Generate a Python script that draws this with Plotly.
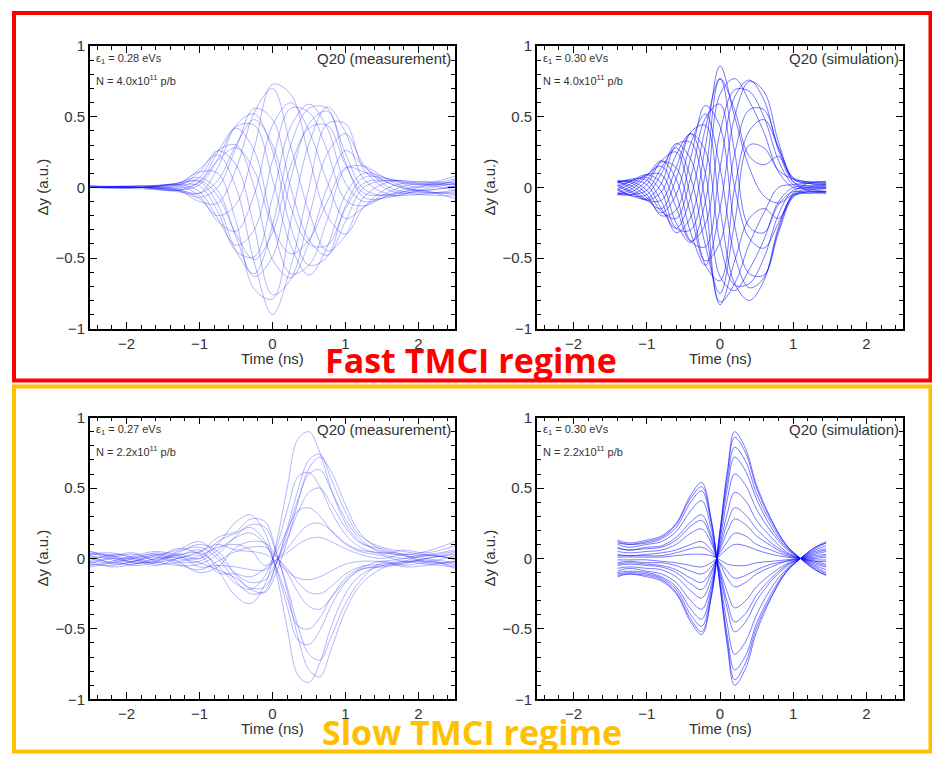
import plotly.graph_objects as go

# ---------------- data ----------------
# Fast TMCI, measurement (N = 4.0e11 p/b)
t_fast_meas = [-2.5, -1.8, -1.3, -1.0, -0.75, -0.5, -0.25, 0.0, 0.25, 0.5, 0.75, 1.0, 1.25, 1.6, 2.0, 2.5]
dy_fast_meas = [
    [0.0, 0.0, -0.02, -0.10, -0.11, 0.13, 0.53, 0.70, 0.29, -0.17, -0.45, -0.34, -0.07, 0.04, 0.04, 0.02],
    [0.0, 0.01, -0.01, -0.08, -0.20, -0.12, 0.28, 0.73, 0.66, 0.22, -0.20, -0.33, -0.14, 0.0, 0.04, 0.03],
    [0.0, 0.0, -0.02, -0.07, 0.0, 0.28, 0.56, 0.48, 0.0, -0.37, -0.48, -0.24, 0.0, 0.05, 0.03, -0.02],
    [0.01, 0.0, -0.03, -0.04, 0.14, 0.44, 0.52, 0.26, -0.28, -0.55, -0.49, -0.13, 0.07, 0.06, 0.02, 0.04],
    [0.0, -0.01, -0.02, 0.02, 0.20, 0.43, 0.44, 0.06, -0.41, -0.62, -0.42, -0.05, 0.10, 0.06, 0.0, 0.05],
    [0.0, 0.0, -0.02, 0.04, 0.25, 0.42, 0.26, -0.26, -0.61, -0.55, -0.23, 0.13, 0.15, 0.05, -0.02, 0.01],
    [0.0, 0.01, 0.0, 0.07, 0.26, 0.30, 0.0, -0.51, -0.64, -0.39, 0.0, 0.26, 0.15, 0.03, -0.03, -0.04],
    [0.01, 0.0, 0.01, 0.11, 0.26, 0.16, -0.28, -0.76, -0.65, -0.21, 0.24, 0.38, 0.16, 0.0, -0.04, -0.02],
    [0.0, 0.0, 0.02, 0.13, 0.23, 0.0, -0.53, -0.90, -0.56, 0.0, 0.45, 0.45, 0.13, -0.02, -0.05, -0.06],
    [0.0, 0.01, 0.03, 0.11, 0.10, -0.24, -0.72, -0.79, -0.24, 0.31, 0.57, 0.39, 0.06, -0.05, -0.05, -0.03],
    [0.01, 0.0, 0.03, 0.07, -0.02, -0.35, -0.63, -0.49, 0.06, 0.45, 0.54, 0.24, -0.01, -0.06, -0.03, -0.05],
    [0.0, 0.0, 0.03, 0.04, -0.12, -0.45, -0.61, -0.27, 0.30, 0.56, 0.56, 0.18, -0.07, -0.07, -0.02, 0.03],
    [0.0, 0.01, 0.02, 0.01, -0.17, -0.45, -0.49, -0.07, 0.43, 0.59, 0.42, 0.03, -0.10, -0.06, 0.0, 0.06],
    [0.0, 0.0, 0.02, -0.03, -0.22, -0.41, -0.30, 0.19, 0.56, 0.53, 0.26, -0.09, -0.13, -0.05, 0.01, 0.02],
    [0.01, 0.0, 0.01, -0.06, -0.24, -0.31, -0.05, 0.44, 0.60, 0.40, 0.04, -0.22, -0.14, -0.03, 0.03, 0.0],
    [0.0, 0.0, -0.02, -0.04, 0.05, 0.30, 0.48, 0.30, -0.14, -0.40, -0.41, -0.15, 0.03, 0.05, 0.02, 0.08],
    [0.0, 0.0, 0.02, 0.05, -0.06, -0.33, -0.51, -0.32, 0.15, 0.42, 0.44, 0.16, -0.04, -0.05, -0.02, -0.08],
    [0.0, 0.0, -0.01, 0.04, 0.19, 0.28, 0.12, -0.28, -0.47, -0.37, -0.10, 0.14, 0.11, 0.03, -0.02, 0.01],
]

# Fast TMCI, simulation
t_fast_sim = [-1.4, -1.2, -1.0, -0.8, -0.6, -0.4, -0.2, 0.0, 0.2, 0.4, 0.6, 0.8, 1.0, 1.2, 1.45]
dy_fast_sim = [
    [0.03, 0.06, 0.05, -0.10, -0.32, -0.21, 0.29, 0.86, 0.50, 0.14, -0.06, -0.11, -0.05, -0.03, -0.04],
    [0.04, 0.05, 0.02, -0.15, -0.29, -0.07, 0.42, 0.77, 0.25, -0.28, -0.32, -0.12, -0.03, -0.04, -0.04],
    [0.04, 0.04, -0.02, -0.17, -0.22, 0.07, 0.49, 0.59, 0.0, -0.36, -0.43, -0.25, -0.06, -0.04, -0.03],
    [0.05, 0.03, -0.05, -0.20, -0.16, 0.21, 0.58, 0.43, -0.27, -0.61, -0.62, -0.32, -0.07, -0.03, -0.03],
    [0.04, 0.01, -0.07, -0.18, -0.05, 0.31, 0.52, 0.14, -0.48, -0.71, -0.64, -0.30, -0.06, -0.02, -0.01],
    [0.04, -0.01, -0.09, -0.15, 0.06, 0.39, 0.44, -0.15, -0.68, -0.80, -0.66, -0.28, -0.05, -0.01, 0.0],
    [0.02, -0.03, -0.09, -0.09, 0.14, 0.38, 0.26, -0.39, -0.69, -0.68, -0.50, -0.19, -0.02, 0.0, 0.01],
    [0.01, -0.04, -0.09, -0.03, 0.23, 0.38, 0.10, -0.63, -0.73, -0.58, -0.37, -0.10, 0.0, 0.01, 0.02],
    [-0.01, -0.06, -0.08, 0.03, 0.30, 0.32, -0.10, -0.81, -0.68, -0.40, -0.18, 0.0, 0.02, 0.03, 0.03],
    [-0.02, -0.06, -0.05, 0.10, 0.31, 0.20, -0.28, -0.83, -0.52, -0.22, -0.15, -0.22, -0.04, 0.03, 0.04],
    [-0.04, -0.05, -0.02, 0.14, 0.28, 0.07, -0.41, -0.75, -0.25, 0.30, 0.28, 0.12, 0.06, 0.04, 0.04],
    [-0.05, -0.05, 0.02, 0.19, 0.25, -0.07, -0.55, -0.66, 0.0, 0.40, 0.48, 0.28, 0.07, 0.04, 0.03],
    [-0.05, -0.03, 0.05, 0.18, 0.14, -0.19, -0.52, -0.39, 0.24, 0.55, 0.55, 0.28, 0.06, 0.03, 0.02],
    [-0.05, -0.01, 0.08, 0.19, 0.06, -0.32, -0.55, -0.15, 0.50, 0.75, 0.68, 0.32, 0.06, 0.03, 0.01],
    [-0.04, 0.01, 0.09, 0.15, -0.05, -0.38, -0.42, 0.14, 0.64, 0.76, 0.62, 0.26, 0.04, 0.01, 0.0],
    [-0.02, 0.03, 0.09, 0.09, -0.14, -0.38, -0.26, 0.39, 0.69, 0.68, 0.50, 0.19, 0.02, 0.0, -0.01],
    [-0.01, 0.05, 0.09, 0.03, -0.25, -0.39, -0.10, 0.66, 0.77, 0.61, 0.39, 0.11, 0.0, -0.01, -0.03],
    [0.01, 0.05, 0.07, -0.03, -0.29, -0.30, 0.10, 0.77, 0.55, 0.22, 0.16, 0.22, 0.04, -0.02, -0.03],
]

# Slow TMCI, measurement (N = 2.2e11 p/b)
t_slow_meas = [-2.5, -2.2, -1.9, -1.6, -1.3, -1.0, -0.75, -0.5, -0.3, -0.1, 0.05,
               0.2, 0.35, 0.5, 0.65, 0.8, 1.0, 1.2, 1.5, 1.8, 2.1, 2.5]
dy_slow_meas = [
    [0.02, -0.03, 0.0, 0.04, 0.02, 0.06, -0.08, -0.27, -0.32, -0.18, 0.10, 0.50, 0.85, 0.90, 0.75, 0.50, 0.25, 0.12, 0.05, 0.02, 0.0, -0.03],
    [-0.03, 0.01, 0.03, -0.01, 0.05, 0.08, 0.0, -0.16, -0.25, -0.23, -0.04, 0.21, 0.49, 0.70, 0.74, 0.57, 0.33, 0.16, 0.08, 0.05, 0.03, 0.06],
    [0.04, 0.0, -0.02, 0.02, 0.06, 0.12, 0.02, -0.12, -0.22, -0.24, -0.10, 0.12, 0.40, 0.64, 0.72, 0.62, 0.38, 0.18, 0.06, 0.03, -0.02, 0.02],
    [0.0, -0.04, -0.02, 0.03, 0.0, -0.03, -0.08, -0.14, -0.21, -0.20, -0.04, 0.18, 0.42, 0.60, 0.63, 0.49, 0.28, 0.14, 0.04, 0.06, 0.04, 0.09],
    [-0.05, -0.02, 0.02, 0.05, 0.03, 0.04, -0.05, -0.18, -0.22, -0.12, 0.07, 0.34, 0.58, 0.61, 0.51, 0.34, 0.17, 0.08, 0.03, 0.0, 0.02, 0.0],
    [0.03, 0.02, -0.03, -0.02, 0.04, 0.10, 0.05, -0.11, -0.17, -0.15, -0.03, 0.14, 0.33, 0.47, 0.50, 0.39, 0.22, 0.11, 0.07, 0.03, 0.05, 0.12],
    [0.01, -0.03, -0.04, 0.0, 0.07, 0.03, -0.10, -0.11, -0.13, -0.07, 0.04, 0.20, 0.34, 0.36, 0.30, 0.20, 0.10, 0.05, 0.02, -0.02, 0.0, 0.04],
    [-0.02, 0.03, 0.01, -0.03, 0.02, -0.06, -0.05, -0.06, -0.08, -0.08, -0.01, 0.07, 0.17, 0.24, 0.25, 0.20, 0.11, 0.06, 0.04, 0.02, -0.03, -0.02],
    [0.05, 0.02, 0.0, 0.02, -0.02, 0.02, 0.08, 0.10, 0.06, -0.05, -0.01, 0.04, 0.10, 0.14, 0.15, 0.12, 0.07, 0.03, 0.0, 0.03, 0.02, 0.05],
    [-0.04, -0.05, -0.02, 0.01, -0.04, -0.08, -0.02, 0.05, 0.05, 0.03, -0.02, -0.09, -0.14, -0.15, -0.13, -0.09, -0.04, -0.02, -0.02, 0.0, 0.03, -0.01],
    [0.02, -0.01, -0.05, -0.03, 0.0, 0.05, 0.10, 0.06, 0.08, 0.08, 0.01, -0.07, -0.17, -0.24, -0.25, -0.20, -0.11, -0.06, -0.04, -0.02, -0.04, -0.06],
    [-0.06, -0.03, 0.01, 0.03, -0.02, -0.10, -0.06, 0.08, 0.12, 0.11, 0.02, -0.10, -0.24, -0.34, -0.36, -0.28, -0.16, -0.08, -0.05, -0.03, 0.0, 0.03],
    [0.03, 0.04, 0.0, -0.04, -0.03, -0.02, 0.06, 0.15, 0.18, 0.10, -0.06, -0.28, -0.48, -0.50, -0.42, -0.28, -0.14, -0.07, -0.02, -0.05, -0.03, -0.05],
    [-0.02, -0.06, -0.04, 0.0, 0.01, 0.0, 0.12, 0.18, 0.22, 0.12, -0.07, -0.34, -0.58, -0.61, -0.51, -0.34, -0.17, -0.08, -0.06, -0.04, -0.01, -0.07],
    [0.0, 0.02, 0.04, -0.02, -0.05, -0.04, 0.03, 0.16, 0.24, 0.22, 0.04, -0.20, -0.48, -0.68, -0.72, -0.56, -0.32, -0.16, -0.03, -0.06, -0.05, -0.02],
    [-0.04, 0.0, -0.01, -0.05, 0.0, 0.04, 0.15, 0.19, 0.28, 0.26, 0.05, -0.23, -0.56, -0.79, -0.84, -0.65, -0.37, -0.19, -0.07, -0.03, -0.02, -0.04],
    [0.05, 0.01, -0.03, -0.02, 0.03, 0.0, 0.10, 0.26, 0.31, 0.18, -0.10, -0.49, -0.83, -0.88, -0.74, -0.49, -0.25, -0.12, -0.05, -0.02, 0.02, 0.0],
]

# Slow TMCI, simulation
t_slow_sim = [-1.4, -1.25, -1.0, -0.8, -0.6, -0.4, -0.25, -0.12, 0.0, 0.1, 0.2,
              0.35, 0.5, 0.7, 0.9, 1.1, 1.3, 1.45]
dy_slow_sim = [
    [0.13, 0.11, 0.13, 0.16, 0.25, 0.45, 0.54, 0.28, -0.20, -0.62, -0.90, -0.78, -0.52, -0.28, -0.10, 0.00, 0.08, 0.12],
    [0.12, 0.10, 0.12, 0.15, 0.24, 0.43, 0.51, 0.27, -0.19, -0.59, -0.86, -0.74, -0.49, -0.27, -0.10, 0.00, 0.08, 0.11],
    [0.11, 0.10, 0.11, 0.14, 0.22, 0.40, 0.48, 0.25, -0.18, -0.55, -0.79, -0.69, -0.46, -0.25, -0.09, 0.00, 0.07, 0.11],
    [0.10, 0.08, 0.10, 0.12, 0.19, 0.34, 0.41, 0.21, -0.15, -0.47, -0.68, -0.59, -0.40, -0.21, -0.08, 0.00, 0.06, 0.09],
    [0.08, 0.06, 0.08, 0.09, 0.15, 0.26, 0.31, 0.16, -0.12, -0.36, -0.52, -0.45, -0.30, -0.16, -0.06, 0.00, 0.05, 0.07],
    [0.07, 0.06, 0.07, 0.08, 0.13, 0.23, 0.27, 0.14, -0.10, -0.31, -0.45, -0.39, -0.26, -0.14, -0.05, 0.00, 0.04, 0.06],
    [0.05, 0.04, 0.05, 0.06, 0.10, 0.18, 0.21, 0.11, -0.08, -0.24, -0.35, -0.30, -0.20, -0.11, -0.04, 0.00, 0.03, 0.05],
    [0.03, 0.02, 0.03, 0.04, 0.06, 0.10, 0.12, 0.06, -0.04, -0.14, -0.20, -0.17, -0.11, -0.06, -0.02, 0.00, 0.02, 0.03],
    [0.02, 0.02, 0.02, 0.02, 0.04, 0.07, 0.08, 0.04, -0.03, -0.09, -0.14, -0.12, -0.08, -0.04, -0.02, 0.00, 0.01, 0.02],
    [0.01, 0.01, 0.01, 0.01, 0.02, 0.03, 0.03, 0.02, -0.01, -0.04, -0.05, -0.05, -0.03, -0.02, -0.01, 0.00, 0.00, 0.01],
    [-0.01, -0.01, -0.01, -0.02, -0.03, -0.05, -0.06, -0.03, 0.02, 0.07, 0.10, 0.09, 0.06, 0.03, 0.01, 0.00, -0.01, -0.01],
    [-0.03, -0.02, -0.03, -0.03, -0.05, -0.09, -0.11, -0.06, 0.04, 0.12, 0.18, 0.16, 0.10, 0.06, 0.02, 0.00, -0.02, -0.02],
    [-0.04, -0.03, -0.04, -0.05, -0.08, -0.14, -0.17, -0.09, 0.06, 0.19, 0.28, 0.24, 0.16, 0.09, 0.03, 0.00, -0.02, -0.04],
    [-0.05, -0.04, -0.05, -0.06, -0.10, -0.18, -0.22, -0.11, 0.08, 0.25, 0.36, 0.31, 0.21, 0.11, 0.04, 0.00, -0.03, -0.05],
    [-0.07, -0.06, -0.07, -0.08, -0.13, -0.23, -0.28, -0.15, 0.10, 0.32, 0.47, 0.41, 0.27, 0.15, 0.05, 0.00, -0.04, -0.06],
    [-0.09, -0.07, -0.09, -0.11, -0.17, -0.30, -0.36, -0.19, 0.13, 0.42, 0.60, 0.52, 0.35, 0.19, 0.07, 0.00, -0.05, -0.08],
    [-0.10, -0.09, -0.10, -0.13, -0.20, -0.36, -0.43, -0.22, 0.16, 0.50, 0.72, 0.62, 0.42, 0.22, 0.08, 0.00, -0.06, -0.10],
    [-0.11, -0.10, -0.11, -0.14, -0.22, -0.40, -0.48, -0.25, 0.18, 0.55, 0.79, 0.69, 0.46, 0.25, 0.09, 0.00, -0.07, -0.11],
    [-0.12, -0.11, -0.12, -0.15, -0.24, -0.43, -0.52, -0.27, 0.19, 0.60, 0.86, 0.75, 0.50, 0.27, 0.10, 0.00, -0.08, -0.12],
    [-0.13, -0.11, -0.13, -0.16, -0.25, -0.45, -0.54, -0.28, 0.20, 0.62, 0.90, 0.78, 0.52, 0.28, 0.10, 0.00, -0.08, -0.12],
]

panel_info = [
    # (epsilon, intensity, label)
    ("0.28", "4.0", "Q20 (measurement)"),
    ("0.30", "4.0", "Q20 (simulation)"),
    ("0.27", "2.2", "Q20 (measurement)"),
    ("0.30", "2.2", "Q20 (simulation)"),
]
regime_titles = ["Fast TMCI regime", "Slow TMCI regime"]

# ---------------- figure ----------------
W, H = 932, 764
fig = go.Figure()

MEAS_STYLE = dict(color="rgba(25,25,255,0.32)", width=1, shape="spline")
SIM_STYLE = dict(color="rgba(10,10,255,0.55)", width=1, shape="spline")

panels = [
    ("x", "y", t_fast_meas, dy_fast_meas, MEAS_STYLE),
    ("x2", "y2", t_fast_sim, dy_fast_sim, SIM_STYLE),
    ("x3", "y3", t_slow_meas, dy_slow_meas, MEAS_STYLE),
    ("x4", "y4", t_slow_sim, dy_slow_sim, SIM_STYLE),
]
for xa, ya, t, curves, style in panels:
    for dy in curves:
        fig.add_trace(go.Scatter(x=t, y=dy, mode="lines", line=style,
                                 xaxis=xa, yaxis=ya, hoverinfo="skip",
                                 showlegend=False))

# panel boxes in pixels (left, right, top, bottom)
boxes = [(90, 455, 38, 327), (537, 903, 38, 327),
         (90, 455, 418, 706), (537, 903, 418, 706)]

TICK_FONT = dict(family="Liberation Sans, Arial, sans-serif", size=15, color="#333333")


def axis_common(**kw):
    d = dict(showline=True, linecolor="black", linewidth=1.6, mirror="ticks",
             ticks="inside", ticklen=7, tickwidth=1.4, tickcolor="black",
             showgrid=False, zeroline=False, tickfont=TICK_FONT)
    d.update(kw)
    return d


layout_axes = {}
for i, (l, r, t, b) in enumerate(boxes):
    sfx = "" if i == 0 else str(i + 1)
    xd = [l / W, r / W]
    yd = [1 - b / H, 1 - t / H]
    layout_axes["xaxis" + sfx] = axis_common(
        domain=xd, anchor="y" + sfx, range=[-2.5, 2.5], dtick=1, tick0=0,
        minor=dict(dtick=0.2, tick0=0, ticks="inside", ticklen=4, tickwidth=1.2, tickcolor="black"))
    layout_axes["yaxis" + sfx] = axis_common(
        domain=yd, anchor="x" + sfx, range=[-1, 1], dtick=0.5, tick0=0,
        minor=dict(dtick=0.1, tick0=0, ticks="inside", ticklen=4, tickwidth=1.2, tickcolor="black"))

fig.update_layout(**layout_axes)

annotations = []
LABEL_FONT = dict(family="Liberation Sans, Arial, sans-serif", size=15, color="#333333")
SMALL_FONT = dict(family="Liberation Sans, Arial, sans-serif", size=11, color="#333333")
for i, ((l, r, t, b), (eps, nb, label)) in enumerate(zip(boxes, panel_info)):
    sfx = "" if i == 0 else str(i + 1)
    xref, yref = "x" + sfx + " domain", "y" + sfx + " domain"
    annotations += [
        dict(text=f"ε<sub>1</sub> = {eps} eVs", xref=xref, yref=yref, x=0.012, y=0.955,
             xanchor="left", yanchor="middle", showarrow=False, font=SMALL_FONT),
        dict(text=f"N = {nb}x10<sup>11</sup> p/b", xref=xref, yref=yref, x=0.012, y=0.88,
             xanchor="left", yanchor="middle", showarrow=False, font=SMALL_FONT),
        dict(text=label, xref=xref, yref=yref, x=0.995, y=0.957,
             xanchor="right", yanchor="middle", showarrow=False, font=LABEL_FONT),
        dict(text="Time (ns)", xref="paper", yref="paper", x=(l + r) / 2 / W,
             y=1 - (b + 30) / H, xanchor="center", yanchor="middle",
             showarrow=False, font=LABEL_FONT),
        dict(text="Δy (a.u.)", xref="paper", yref="paper", x=(l - 48) / W,
             y=1 - (t + b) / 2 / H, xanchor="center", yanchor="middle", textangle=-90,
             showarrow=False, font=LABEL_FONT),
    ]

TITLE_FONT = "'Open Sans', Lato, sans-serif"
annotations += [
    dict(text=f"<b>{regime_titles[0]}</b>", xref="paper", yref="paper", x=471 / W, y=1 - 359 / H,
         xanchor="center", yanchor="middle", showarrow=False,
         font=dict(family=TITLE_FONT, size=34, color="#ff0000")),
    dict(text=f"<b>{regime_titles[1]}</b>", xref="paper", yref="paper", x=472.5 / W, y=1 - 739 / H,
         xanchor="center", yanchor="middle", showarrow=False,
         font=dict(family=TITLE_FONT, size=34, color="#ffc000")),
]

shapes = [
    dict(type="rect", xref="paper", yref="paper", x0=14 / W, x1=930.5 / W,
         y0=1 - 380 / H, y1=1 - 4 / H, line=dict(color="#ff0000", width=4)),
    dict(type="rect", xref="paper", yref="paper", x0=14 / W, x1=930.5 / W,
         y0=1 - 759.5 / H, y1=1 - 386 / H, line=dict(color="#ffc000", width=4)),
]

fig.update_layout(width=W, height=H, margin=dict(l=0, r=0, t=0, b=0),
                  paper_bgcolor="white", plot_bgcolor="white", showlegend=False,
                  annotations=annotations, shapes=shapes)

fig.write_html("out.html")
